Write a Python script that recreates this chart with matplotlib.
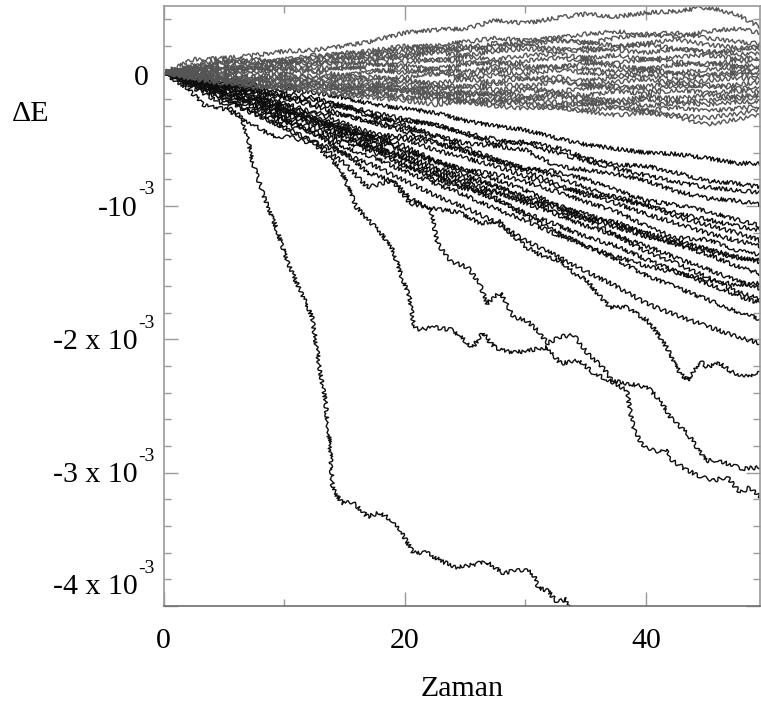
import matplotlib
matplotlib.use("Agg")
import matplotlib.pyplot as plt
from matplotlib.ticker import MultipleLocator

# all energy values below are in units of 1e-4
t_grid = [0, 2.5, 5, 7.5, 10, 12.5, 15, 17.5, 20, 22.5, 25,
          27.5, 30, 32.5, 35, 37.5, 40, 42.5, 45, 47.5, 49.5]

grey_runs = [
    [0, 1.0, 1.1, 1.3, 1.6, 1.7, 2.0, 2.4, 3.0, 3.2, 3.3, 3.9, 3.7, 4.1, 4.4, 4.2, 4.5, 4.6, 4.9, 4.4, 3.4],
    [0, 0.6, 0.9, 0.7, 1.0, 1.3, 1.1, 1.5, 1.8, 2.1, 2.3, 2.6, 2.4, 2.5, 2.2, 2.6, 2.9, 3.0, 2.6, 2.3, 2.2],
    [0, 0.4, 0.7, 0.9, 0.8, 1.2, 1.5, 1.4, 1.6, 1.8, 2.0, 1.7, 2.1, 2.4, 2.3, 2.0, 2.2, 2.5, 2.1, 1.9, 1.8],
    [0, 0.3, 0.5, 0.6, 0.9, 0.7, 1.0, 1.3, 1.2, 1.5, 1.3, 1.6, 1.8, 1.6, 1.9, 1.7, 1.5, 1.8, 1.6, 1.4, 1.4],
    [0, 0.2, 0.4, 0.3, 0.6, 0.8, 0.6, 0.9, 1.1, 0.9, 1.2, 1.0, 1.3, 1.4, 1.1, 1.3, 1.0, 1.2, 1.3, 1.1, 1.1],
    [0, 0.1, 0.3, 0.5, 0.4, 0.6, 0.8, 0.6, 0.7, 1.0, 0.8, 0.6, 0.9, 1.1, 0.9, 0.7, 1.0, 0.8, 0.6, 0.9, 0.8],
    [0, 0.2, 0.1, 0.3, 0.2, 0.4, 0.3, 0.6, 0.5, 0.3, 0.6, 0.8, 0.5, 0.4, 0.7, 0.5, 0.3, 0.6, 0.7, 0.5, 0.5],
    [0, 0.0, 0.2, 0.1, 0.3, 0.1, 0.4, 0.2, 0.0, 0.3, 0.1, 0.4, 0.2, 0.5, 0.3, 0.1, 0.3, 0.0, 0.2, 0.4, 0.2],
    [0, -0.1, 0.0, 0.2, -0.1, 0.1, -0.2, 0.1, 0.3, 0.0, -0.2, 0.1, -0.1, 0.2, 0.0, -0.2, 0.1, -0.1, -0.2, 0.1, 0.0],
    [0, -0.2, -0.1, -0.3, -0.1, -0.4, -0.2, -0.5, -0.3, -0.1, -0.4, -0.2, -0.5, -0.3, -0.6, -0.4, -0.2, -0.5, -0.3, -0.1, -0.2],
    [0, 0.1, -0.2, -0.1, -0.4, -0.2, -0.5, -0.3, -0.6, -0.8, -0.5, -0.7, -0.4, -0.6, -0.9, -0.7, -0.5, -0.8, -0.6, -0.4, -0.5],
    [0, -0.3, -0.2, -0.5, -0.4, -0.7, -0.5, -0.8, -0.6, -0.9, -1.1, -0.8, -1.0, -0.7, -0.9, -1.2, -1.0, -0.8, -1.1, -0.9, -0.7],
    [0, -0.2, -0.4, -0.3, -0.6, -0.5, -0.8, -1.0, -0.9, -1.2, -1.0, -1.3, -1.1, -1.4, -1.2, -1.0, -1.3, -1.1, -0.9, -1.2, -1.0],
    [0, -0.1, -0.3, -0.6, -0.5, -0.8, -1.0, -0.9, -1.2, -1.1, -1.4, -1.6, -1.3, -1.5, -1.7, -1.4, -1.6, -1.3, -1.5, -1.4, -1.3],
    [0, -0.4, -0.5, -0.7, -0.9, -0.8, -1.1, -1.3, -1.2, -1.5, -1.7, -1.5, -1.8, -1.6, -1.9, -2.1, -1.8, -1.9, -1.7, -1.8, -1.6],
    [0, -0.3, -0.6, -0.5, -0.8, -1.0, -1.2, -1.1, -1.4, -1.6, -1.5, -1.8, -2.0, -1.8, -2.1, -2.3, -2.0, -2.2, -2.1, -1.9, -1.9],
    [0, -0.2, -0.5, -0.8, -1.0, -0.9, -1.3, -1.5, -1.4, -1.7, -1.9, -2.1, -1.9, -2.2, -2.4, -2.2, -2.5, -2.3, -2.4, -2.2, -2.2],
    [0, -0.4, -0.7, -0.9, -1.2, -1.1, -1.4, -1.7, -1.9, -1.8, -2.1, -2.3, -2.2, -2.5, -2.3, -2.6, -2.8, -2.6, -2.9, -2.7, -2.5],
    [0, -0.3, -0.6, -1.0, -1.1, -1.3, -1.6, -1.5, -1.8, -2.0, -2.2, -2.0, -2.4, -2.6, -2.8, -2.6, -2.9, -3.2, -3.4, -3.1, -2.8],
    [0, -0.5, -0.8, -1.1, -1.0, -1.4, -1.7, -1.9, -2.1, -2.4, -2.2, -2.5, -2.7, -2.6, -2.9, -3.2, -3.0, -3.3, -3.9, -3.5, -3.2],
    [0, 0.5, 0.8, 1.0, 0.8, 1.1, 1.4, 1.7, 2.0, 1.8, 1.6, 2.0, 2.4, 2.6, 2.9, 3.1, 2.8, 2.7, 3.1, 3.3, 3.0],
    [0, 0.3, 0.5, 0.4, 0.7, 0.9, 1.2, 1.0, 1.3, 1.6, 1.9, 2.2, 2.0, 1.8, 1.6, 1.9, 2.1, 1.8, 1.5, 1.7, 2.0],
]

black_runs = [
    [0, -0.3, -0.5, -0.9, -1.2, -1.5, -1.9, -2.4, -2.7, -3.0, -3.6, -4.0, -4.3, -4.9, -5.4, -5.7, -6.0, -6.1, -6.4, -6.8, -6.8],
    [0, -0.2, -0.7, -1.3, -1.9, -2.0, -2.6, -3.4, -3.6, -3.9, -4.6, -5.3, -5.2, -5.6, -6.4, -6.9, -7.0, -7.5, -8.1, -8.3, -8.6],
    [0, -0.4, -0.8, -1.3, -1.7, -2.4, -2.6, -3.2, -3.9, -4.7, -5.3, -5.5, -5.8, -7.0, -7.3, -7.6, -8.1, -8.9, -9.4, -9.6, -9.9],
    [0, -0.5, -1.0, -1.6, -2.6, -3.0, -3.2, -3.7, -4.1, -4.8, -5.6, -6.5, -7.2, -7.4, -8.0, -8.8, -9.6, -9.9, -10.4, -11.0, -11.5],
    [0, -0.3, -1.1, -1.5, -2.3, -3.0, -3.8, -4.6, -4.8, -5.3, -5.9, -6.6, -7.4, -8.3, -9.2, -9.3, -9.9, -10.8, -11.4, -12.0, -12.6],
    [0, -0.6, -1.2, -1.9, -2.6, -3.6, -4.5, -4.8, -5.0, -5.8, -6.4, -7.0, -7.8, -8.5, -9.0, -9.8, -10.6, -11.3, -12.0, -12.6, -13.0],
    [0, -0.4, -0.9, -1.7, -2.4, -3.4, -4.2, -4.8, -5.5, -6.6, -7.3, -7.6, -8.2, -8.9, -9.7, -10.4, -11.5, -12.4, -12.5, -13.3, -13.7],
    [0, -0.5, -1.3, -2.1, -2.8, -3.5, -4.3, -5.1, -5.9, -6.6, -7.3, -8.0, -8.8, -9.9, -10.9, -11.2, -12.1, -12.9, -13.6, -14.5, -15.1],
    [0, -0.7, -1.5, -2.2, -3.2, -3.8, -4.6, -5.6, -6.2, -7.1, -7.9, -8.5, -9.3, -9.9, -10.6, -11.4, -12.0, -12.6, -13.2, -13.8, -14.2],
    [0, -0.6, -1.4, -2.5, -3.3, -4.2, -5.0, -5.7, -6.5, -7.3, -8.2, -8.9, -9.8, -10.6, -11.5, -12.2, -13.0, -13.9, -14.7, -15.6, -16.2],
    [0, -0.8, -1.7, -2.6, -3.6, -4.4, -5.2, -6.0, -7.0, -7.7, -8.6, -9.5, -10.5, -11.4, -12.3, -13.0, -14.0, -14.9, -15.8, -16.7, -17.3],
    [0, -0.9, -1.9, -2.9, -3.8, -4.6, -5.6, -6.4, -7.4, -8.3, -9.2, -10.2, -11.1, -12.1, -13.0, -14.0, -15.2, -16.1, -17.0, -17.9, -18.5],
    [0, -1.0, -2.1, -3.1, -4.1, -5.2, -6.1, -7.0, -8.1, -9.2, -10.1, -11.2, -12.6, -13.7, -14.9, -16.0, -17.3, -18.2, -19.0, -19.8, -20.3],
    [0, -0.5, -1.2, -2.0, -2.8, -3.4, -4.0, -4.9, -5.8, -6.7, -7.6, -8.5, -9.5, -10.4, -11.0, -12.2, -13.4, -14.3, -15.3, -16.4, -17.0],
    [0, -0.3, -0.9, -1.4, -1.9, -2.5, -3.2, -3.8, -4.4, -5.2, -5.9, -6.6, -7.1, -7.8, -8.6, -9.4, -10.0, -10.5, -11.0, -11.5, -11.8],
    [0, -0.2, -0.6, -1.1, -1.5, -1.9, -2.5, -3.0, -3.5, -3.9, -4.5, -5.0, -5.4, -6.0, -6.6, -7.2, -7.7, -8.2, -8.6, -8.8, -9.0],
    [0, -0.4, -1.0, -1.9, -2.9, -3.9, -4.8, -5.7, -6.9, -8.0, -8.7, -9.0, -9.6, -10.1, -10.9, -11.6, -12.3, -12.8, -13.3, -13.9, -14.0],
    [0, -0.6, -1.5, -2.3, -3.0, -3.6, -4.3, -5.3, -6.5, -7.6, -8.4, -9.4, -10.7, -11.9, -13.0, -13.8, -14.5, -15.0, -15.5, -15.9, -15.8],
]

# runs that break away from the bundle
drop_a_t = [0, 1, 2, 3, 4, 5, 6, 6.5, 7.0, 7.4, 8.2, 9.4, 10.3, 11.3, 12.3, 13.0, 13.4, 13.8, 14.0,
            14.4, 14.9, 15.7, 16.9, 17.9, 19.0, 19.6, 20.7, 21.8, 23.2, 24.3, 26.8, 28.1, 29.8,
            30.6, 31.1, 31.8, 32.6, 33.4, 33.7]
drop_a_v = [0, -0.3, -0.9, -1.4, -1.9, -2.4, -3.0, -3.4, -5.1, -6.8, -9.0, -11.8, -14.3, -16.3, -18.3,
            -22.5, -24.6, -28.1, -31.1, -31.8, -32.3, -32.2, -33.3, -33.0, -33.6, -34.3, -36.0,
            -36.0, -36.7, -37.1, -36.7, -37.5, -37.3, -37.5, -38.7, -38.8, -39.7, -39.5, -40.1]

drop_b_t = [0, 2.0, 3.3, 5.3, 8.9, 10.8, 12.6, 13.6, 14.6, 16.0, 16.9, 17.8, 19.0, 19.8, 20.4, 20.7,
            21.0, 22.3, 24.0, 25.2, 25.6, 26.5, 27.1, 27.9, 29.0, 30.4, 31.8, 32.9, 34.5, 35.6,
            37.0, 38.4, 40.1, 41.2, 42.2, 43.4, 44.2, 45.0, 45.9, 46.7, 48.0, 49.5]
drop_b_v = [0, -1.2, -2.4, -2.8, -4.7, -4.9, -5.4, -6.3, -7.1, -10.1, -11.0, -11.8, -13.3, -15.5,
            -16.8, -18.8, -19.3, -19.1, -19.3, -20.3, -20.6, -19.5, -20.3, -20.8, -21.0, -20.8,
            -20.6, -21.8, -21.6, -22.5, -23.1, -23.3, -23.6, -24.6, -26.1, -27.0, -28.1, -29.1,
            -29.1, -29.3, -29.7, -29.6]

drop_c_t = [0, 2.5, 5, 7.5, 10, 12.5, 15, 16.9, 19.0, 20.4, 22.1, 22.7, 23.7, 25.2, 26.2, 26.8,
            27.9, 29.0, 30.1, 31.2, 31.8, 32.9, 34.0, 35.1, 36.4, 37.3, 38.4, 38.7, 39.0, 39.8,
            41.2, 41.7, 42.0, 43.4, 44.5, 45.6, 46.7, 47.8, 48.6, 49.5]
drop_c_v = [0, -0.8, -1.9, -3.0, -4.2, -5.2, -6.8, -8.6, -8.1, -9.8, -10.1, -12.8, -14.1, -14.6,
            -15.8, -17.3, -16.5, -18.3, -18.6, -19.5, -20.3, -19.8, -19.7, -21.0, -22.1, -23.3,
            -23.8, -25.5, -26.8, -28.1, -28.5, -28.2, -29.0, -29.8, -30.3, -30.6, -30.3, -31.5,
            -31.1, -31.8]

drop_d_t = [0, 2.5, 5, 7.5, 10, 12.5, 15, 16.9, 19.0, 20.4, 21.8, 24.6, 26.2, 27.9, 28.7, 30.1,
            31.5, 32.9, 34.0, 35.1, 35.9, 37.0, 38.4, 40.1, 40.6, 41.7, 42.8, 43.4, 44.5, 45.0,
            46.1, 47.2, 48.4, 49.5]
drop_d_v = [0, -0.6, -1.5, -2.4, -3.5, -4.6, -6.0, -7.5, -8.1, -9.4, -10.1, -10.5, -11.3, -11.1,
            -12.0, -13.1, -13.8, -14.1, -15.0, -15.6, -16.5, -17.6, -17.6, -18.6, -19.1, -20.6,
            -22.5, -23.1, -21.6, -22.1, -21.8, -22.5, -22.8, -22.3]

ytick_vals = [0, -1e-3, -2e-3, -3e-3, -4e-3]
ytick_main = ['0', '-10', '-2 x 10', '-3 x 10', '-4 x 10']
ytick_exp = ['', '-3', '-3', '-3', '-3']

scale = 1e-4
serif = 'Liberation Serif'

fig = plt.figure(figsize=(7.61, 7.04), dpi=100)
ax = fig.add_axes([0.2151, 0.1392, 0.7836, 0.8523])

black = '#0d0d0d'
grey = '#555555'


def draw(t, v, color, k):
    line, = ax.plot(t, [y * scale for y in v], color=color, lw=1.0)
    # jagged trace look; vary the wiggle per run so neighbours don't move in step
    line.set_sketch_params(scale=2.0, length=4.3 + 0.61 * (k % 7), randomness=3 + (k % 4))


k = 0
for run in black_runs:
    draw(t_grid, run, black, k)
    k += 1
for tt, vv in [(drop_a_t, drop_a_v), (drop_b_t, drop_b_v),
               (drop_c_t, drop_c_v), (drop_d_t, drop_d_v)]:
    draw(tt, vv, black, k)
    k += 1
for run in grey_runs:
    draw(t_grid, run, grey, k)
    k += 1

ax.set_xlim(0, 49.45)
ax.set_ylim(-4e-3, 0.5e-3)

spine_col = '#9a9a9a'
for s in ax.spines.values():
    s.set_color(spine_col)
    s.set_linewidth(1.2)
ax.spines['bottom'].set_color('#707070')

ax.xaxis.set_major_locator(MultipleLocator(20))
ax.xaxis.set_minor_locator(MultipleLocator(10))
ax.yaxis.set_major_locator(MultipleLocator(1e-3))
ax.yaxis.set_minor_locator(MultipleLocator(2e-4))
ax.tick_params(which='both', direction='in', top=True, right=True, color=spine_col, width=1.0)
ax.tick_params(which='major', length=10)
ax.tick_params(which='minor', length=5)
ax.tick_params(axis='x', pad=16)
ax.set_yticklabels([])
ax.set_xticks([0, 20, 40])
ax.set_xticklabels(['0', '20', '40'], fontfamily=serif, fontsize=21.5)

# y labels drawn as text with raised exponent
ytr = ax.get_yaxis_transform()
for val, main, exp in zip(ytick_vals, ytick_main, ytick_exp):
    y = val - 0.02e-3
    if val == 0:
        ax.text(-0.0247, val - 0.04e-3, main, transform=ytr, ha='right', va='center',
                fontfamily=serif, fontsize=21.5)
        continue
    if val <= -4e-3:
        y = -3.86e-3
    ax.text(-0.0431, y, main, transform=ytr, ha='right', va='center',
            fontfamily=serif, fontsize=21.5)
    ax.text(-0.0425, y + 0.14e-3, exp, transform=ytr, ha='left', va='center',
            fontfamily=serif, fontsize=14)

ax.text(-0.223, -0.31e-3, '\u0394E', transform=ytr, ha='center', va='center',
        fontfamily=serif, fontsize=21.5)
ax.set_xlabel('Zaman', fontfamily=serif, fontsize=21.5, labelpad=16)

fig.savefig('out.png', dpi=100)
